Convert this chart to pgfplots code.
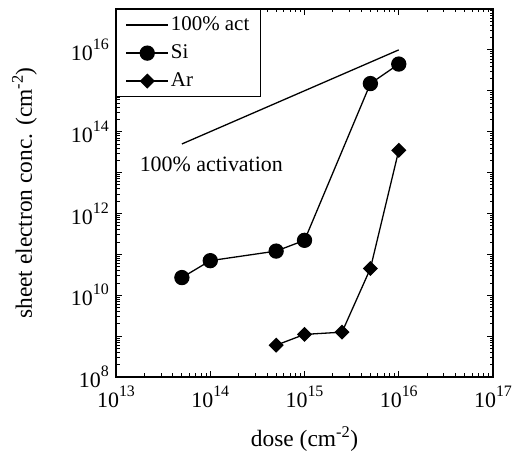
\documentclass[border=0pt]{standalone}
\usepackage{pgfplots}
\pgfplotsset{compat=1.18}
\usepackage{fontspec}
\setmainfont{Liberation Serif}
% tick label: 10 with a large raised exponent
\newcommand{\tl}[1]{10\raisebox{0.5em}{\fontsize{16}{16}\selectfont #1}}
\begin{document}
\fontsize{21}{25}\selectfont
\begin{tikzpicture}
\path[use as bounding box] (-116bp,-79bp) rectangle (399bp,377bp);
\begin{axis}[
    at={(0,0)}, anchor=south west,
    scale only axis,
    width=377bp, height=368bp,
    xmode=log, ymode=log,
    xmin=1e13, xmax=1e17,
    ymin=1e8, ymax=1e17,
    xtick={1e13,1e14,1e15,1e16,1e17},
    xticklabels={\tl{13},\tl{14},\tl{15},\tl{16},\tl{17}},
    minor xtick={2e13,3e13,4e13,5e13,6e13,7e13,8e13,9e13,
        2e14,3e14,4e14,5e14,6e14,7e14,8e14,9e14,
        2e15,3e15,4e15,5e15,6e15,7e15,8e15,9e15,
        2e16,3e16,4e16,5e16,6e16,7e16,8e16,9e16},
    ytick={1e8,1e9,1e10,1e11,1e12,1e13,1e14,1e15,1e16,1e17},
    yticklabels={\tl{8},{},\tl{10},{},\tl{12},{},\tl{14},{},\tl{16},{}},
    minor ytick={2e8,3e8,4e8,5e8,6e8,7e8,8e8,9e8,
        2e9,3e9,4e9,5e9,6e9,7e9,8e9,9e9,
        2e10,3e10,4e10,5e10,6e10,7e10,8e10,9e10,
        2e11,3e11,4e11,5e11,6e11,7e11,8e11,9e11,
        2e12,3e12,4e12,5e12,6e12,7e12,8e12,9e12,
        2e13,3e13,4e13,5e13,6e13,7e13,8e13,9e13,
        2e14,3e14,4e14,5e14,6e14,7e14,8e14,9e14,
        2e15,3e15,4e15,5e15,6e15,7e15,8e15,9e15,
        2e16,3e16,4e16,5e16,6e16,7e16,8e16,9e16},
    axis line style={line width=1.2bp},
    tick style={black, line width=0.8bp},
    major tick length=6bp,
    minor tick length=3.5bp,
    tick label style={font=\fontsize{22}{25}\selectfont},
    xticklabel style={yshift=-2bp},
    label style={font=\fontsize{23.5}{27}\selectfont},
    xlabel={dose (cm\textsuperscript{-2})},
    ylabel={sheet electron conc. (cm\textsuperscript{-2})},
    xlabel style={yshift=-5bp},
    ylabel style={yshift=20bp},
    legend style={at={(0,1)}, anchor=north west, draw=black, line width=1.2bp,
        inner xsep=9bp, inner ysep=5bp, row sep=7bp},
    legend cell align=left,
    legend image code/.code={\draw[mark repeat=2,mark phase=2,#1]
        plot coordinates {(0bp,0bp) (21bp,0bp) (42bp,0bp)};},
]
\addplot[black, line width=1.3bp] coordinates {(5e13,5e13) (1e16,1e16)};
\addlegendentry{100\% act}
\addplot[black, line width=1.3bp, mark=*, mark size=7bp,
    mark options={solid, fill=black}] coordinates {
    (5e13,2.7e10) (1e14,7e10) (5e14,1.2e11) (1e15,2.2e11) (5e15,1.5e15) (1e16,4.5e15)
};
\addlegendentry{Si}
\addplot[black, line width=1.3bp, mark=square*, mark size=4.7bp,
    mark options={solid, fill=black, rotate=45}] coordinates {
    (5e14,6e8) (1e15,1.1e9) (2.5e15,1.25e9) (5e15,4.5e10) (1e16,3.5e13)
};
\addlegendentry{Ar}
\node[anchor=west, font=\fontsize{22}{25}\selectfont] at (axis cs:1.5e13,1.6e13) {100\% activation};
\end{axis}
\end{tikzpicture}
\end{document}
